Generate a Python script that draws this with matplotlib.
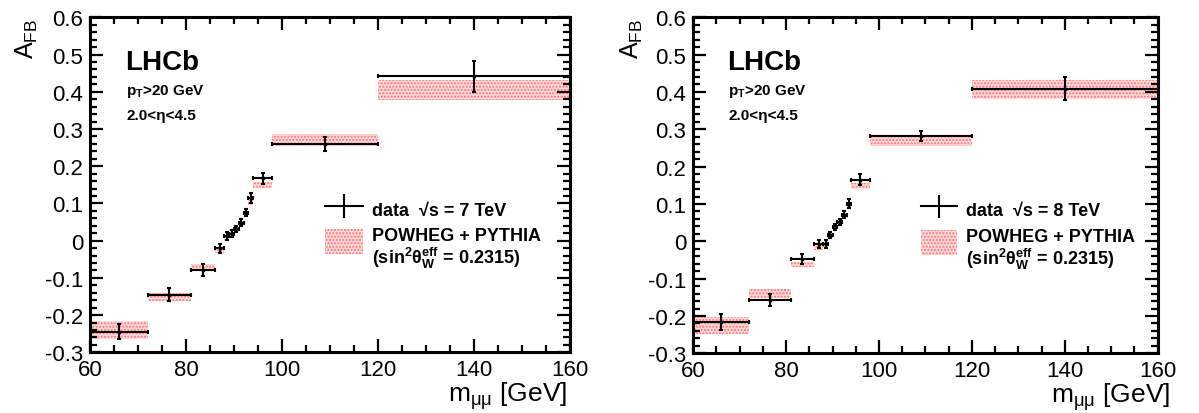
import numpy as np
import matplotlib
matplotlib.use('Agg')
import matplotlib.pyplot as plt
from matplotlib.lines import Line2D
from matplotlib.patches import Rectangle
from matplotlib.ticker import MultipleLocator

plt.rcParams['font.family'] = ['Liberation Sans', 'DejaVu Sans']
plt.rcParams['mathtext.fontset'] = 'custom'
plt.rcParams['mathtext.rm'] = 'Liberation Sans'
plt.rcParams['mathtext.it'] = 'Liberation Sans:italic'
plt.rcParams['mathtext.bf'] = 'Liberation Sans:bold'
plt.rcParams['mathtext.default'] = 'regular'
plt.rcParams['axes.unicode_minus'] = False
plt.rcParams['hatch.linewidth'] = 1.0

# mass bins [GeV]
bin_lo = np.array([60, 72, 81, 86, 88, 89, 90, 91, 92, 93, 94, 98, 120])
bin_hi = np.array([72, 81, 86, 88, 89, 90, 91, 92, 93, 94, 98, 120, 160])

# 7 TeV data and POWHEG band
afb_7 = [-0.245, -0.145, -0.079, -0.021, 0.013, 0.019, 0.031, 0.048, 0.075, 0.114, 0.167, 0.259, 0.441]
err_7 = [0.020, 0.017, 0.015, 0.012, 0.011, 0.010, 0.009, 0.009, 0.010, 0.014, 0.014, 0.019, 0.042]
band_lo_7 = [-0.265, -0.161, -0.080, -0.032, 0.000, 0.012, 0.025, 0.042, 0.068, 0.096, 0.141, 0.255, 0.378]
band_hi_7 = [-0.215, -0.141, -0.063, -0.020, 0.012, 0.024, 0.037, 0.054, 0.080, 0.112, 0.157, 0.286, 0.431]

# 8 TeV data and POWHEG band
afb_8 = [-0.216, -0.156, -0.047, -0.007, -0.007, 0.017, 0.039, 0.053, 0.071, 0.101, 0.165, 0.282, 0.409]
err_8 = [0.021, 0.016, 0.013, 0.010, 0.010, 0.009, 0.008, 0.008, 0.009, 0.012, 0.014, 0.013, 0.030]
band_lo_8 = [-0.247, -0.152, -0.070, -0.024, -0.016, 0.008, 0.030, 0.046, 0.064, 0.092, 0.139, 0.254, 0.382]
band_hi_8 = [-0.203, -0.129, -0.055, -0.012, -0.004, 0.020, 0.042, 0.058, 0.076, 0.106, 0.157, 0.281, 0.431]

band_face = '#ffdada'
band_dots = '#ff7070'


def draw_panel(ax, afb, err, blo, bhi, energy, xlab_x):
  centers = (bin_lo + bin_hi) / 2.0
  widths = bin_hi - bin_lo
  blo = np.array(blo)
  bhi = np.array(bhi)
  ax.bar(centers, bhi - blo, width=widths, bottom=blo, color=band_face,
         edgecolor=band_dots, hatch='.....', linewidth=0, zorder=1)
  ax.errorbar(centers, afb, xerr=widths / 2.0, yerr=err, fmt='o', ms=1.8,
              color='black', elinewidth=1.5, capsize=1.5, capthick=1.5, zorder=3)

  ax.set_xlim(60, 160)
  ax.set_ylim(-0.3, 0.6)
  ax.xaxis.set_major_locator(MultipleLocator(20))
  ax.xaxis.set_minor_locator(MultipleLocator(5))
  ax.yaxis.set_major_locator(MultipleLocator(0.1))
  ax.yaxis.set_minor_locator(MultipleLocator(0.02))
  ax.yaxis.set_major_formatter(plt.FuncFormatter(lambda v, p: '0' if abs(v) < 1e-9 else f'{v:.1f}'))
  ax.tick_params(which='both', direction='in', top=True, right=True, labelsize=16)
  ax.tick_params(which='major', length=9.5, width=1.6)
  ax.tick_params(which='minor', length=5, width=1.6)
  ax.tick_params(axis='y', pad=5)
  ax.tick_params(axis='x', pad=5)
  for s in ax.spines.values():
    s.set_linewidth(2.2)

  ax.set_ylabel('A$_{FB}$', fontsize=18, loc='top')
  ax.yaxis.set_label_coords(-0.104, 1.0)
  ax.set_xlabel(r'm$_{\mu\mu}$ [GeV]', fontsize=19, loc='right')
  ax.xaxis.set_label_coords(xlab_x, -0.08)

  tr = ax.transAxes
  ax.text(0.073, 0.846, 'LHCb', transform=tr, fontsize=20, fontweight='bold', va='baseline')
  ax.text(0.075, 0.772, 'p$_T$>20 GeV', transform=tr, fontsize=11, fontweight='bold', va='baseline')
  ax.text(0.075, 0.696, '2.0<η<4.5', transform=tr, fontsize=11, fontweight='bold', va='baseline')

  # legend drawn by hand
  ax.add_line(Line2D([0.49, 0.569], [0.437, 0.437], transform=tr, color='black', lw=1.5))
  ax.add_line(Line2D([0.5295, 0.5295], [0.405, 0.469], transform=tr, color='black', lw=1.5))
  ax.text(0.5875, 0.411, f'data  √s = {energy} TeV', transform=tr, fontsize=13,
          fontweight='bold', va='baseline')
  ax.add_patch(Rectangle((0.49, 0.293), 0.079, 0.075, transform=tr, facecolor=band_face,
                         edgecolor=band_dots, hatch='.....', linewidth=0))
  ax.text(0.5875, 0.334, 'POWHEG + PYTHIA', transform=tr, fontsize=13,
          fontweight='bold', va='baseline')
  ax.text(0.5875, 0.266, r'(sin$^2\theta^{eff}_W$ = 0.2315)', transform=tr, fontsize=13,
          fontweight='bold', va='baseline')


fig = plt.figure(figsize=(11.99, 4.14), dpi=100)
ax1 = fig.add_axes([0.0751, 0.1466, 0.4003, 0.8092])
ax2 = fig.add_axes([0.5782, 0.1442, 0.3873, 0.8116])

draw_panel(ax1, afb_7, err_7, band_lo_7, band_hi_7, 7, 0.994)
draw_panel(ax2, afb_8, err_8, band_lo_8, band_hi_8, 8, 1.026)

fig.savefig('out.png', dpi=100)
